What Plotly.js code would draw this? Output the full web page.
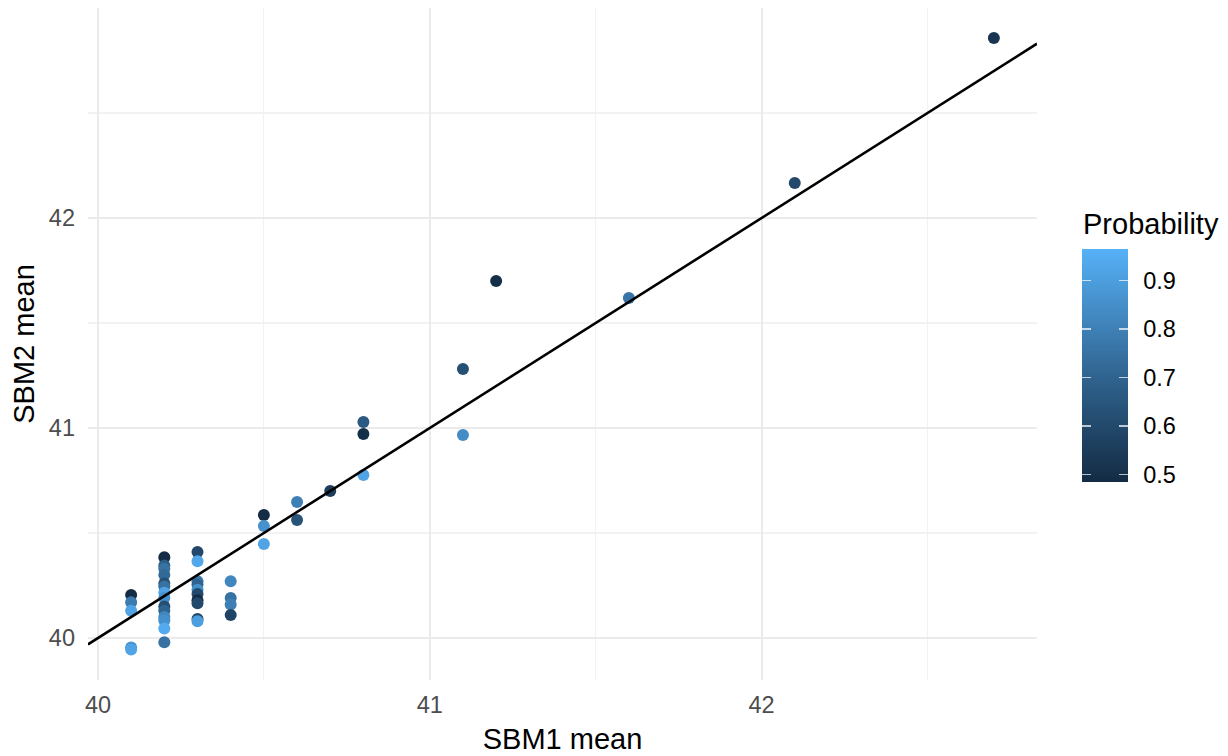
<!DOCTYPE html>
<html>
<head>
<meta charset="utf-8">
<script src="https://cdn.plot.ly/plotly-3.0.1.min.js"></script>
<style>html,body{margin:0;padding:0;background:#fff;}#chart{width:1228px;height:756px;}</style>
</head>
<body>
<div id="chart"></div>
<script>
// SBM1 mean (x), SBM2 mean (y), Probability (colour)
const sbm1 = [
  40.1, 40.1, 40.1, 40.1, 40.1,
  40.2, 40.2, 40.2, 40.2, 40.2, 40.2, 40.2, 40.2, 40.2, 40.2, 40.2, 40.2, 40.2, 40.2,
  40.3, 40.3, 40.3, 40.3, 40.3, 40.3, 40.3, 40.3, 40.3, 40.3,
  40.4, 40.4, 40.4, 40.4,
  40.5, 40.5, 40.5,
  40.6, 40.6,
  40.7,
  40.8, 40.8, 40.8,
  41.1, 41.1,
  41.2,
  41.6,
  42.1,
  42.7
];
const sbm2 = [
  40.205, 40.17, 40.13, 39.955, 39.945,
  40.385, 40.345, 40.33, 40.30, 40.26, 40.245, 40.215, 40.19, 40.15, 40.13, 40.10, 40.085, 40.045, 39.98,
  40.41, 40.365, 40.27, 40.255, 40.23, 40.21, 40.18, 40.165, 40.09, 40.08,
  40.27, 40.19, 40.16, 40.11,
  40.586, 40.533, 40.448,
  40.648, 40.562,
  40.70,
  41.029, 40.971, 40.776,
  41.281, 40.967,
  41.70,
  41.619,
  42.167,
  42.857
];
const probability = [
  0.49, 0.78, 0.92, 0.86, 0.92,
  0.49, 0.68, 0.75, 0.72, 0.62, 0.75, 0.92, 0.85, 0.62, 0.70, 0.82, 0.85, 0.94, 0.75,
  0.60, 0.93, 0.78, 0.70, 0.85, 0.60, 0.49, 0.60, 0.60, 0.90,
  0.82, 0.75, 0.80, 0.58,
  0.49, 0.86, 0.92,
  0.80, 0.64,
  0.55,
  0.66, 0.50, 0.92,
  0.62, 0.84,
  0.50,
  0.76,
  0.60,
  0.52
];
const xRange = [39.97, 42.83];
const yRange = [39.8, 43.0];
const probRange = [0.484, 0.964];
const colorTicks = [0.5, 0.6, 0.7, 0.8, 0.9];

const font = 'Liberation Sans, Arial, sans-serif';
const cscale = [[0, '#132B43'], [0.5, '#336A98'], [1, '#56B1F7']];
const tickWhite = 'rgba(255,255,255,0.7)';
const cbBase = {
  thickness: 46, thicknessmode: 'pixels',
  len: 233, lenmode: 'pixels',
  xref: 'container', yref: 'container',
  x: 1082 / 1228, xanchor: 'left',
  y: 344.5 / 756, yanchor: 'middle',
  xpad: 0, ypad: 0, outlinewidth: 0,
  tickvals: colorTicks, ticktext: colorTicks.map(v => v.toFixed(1)),
  tickfont: {family: font, size: 23.5, color: '#000'}
};
// colour bar carrying the labels (drawn first, underneath)
const labelBar = {
  type: 'scatter', mode: 'markers', x: [null], y: [null], hoverinfo: 'skip', showlegend: false,
  marker: {
    color: probRange, cmin: probRange[0], cmax: probRange[1], colorscale: cscale, showscale: true,
    colorbar: Object.assign({}, cbBase, {ticks: 'outside', ticklen: 11, tickcolor: 'rgba(0,0,0,0)'})
  }
};
const pts = {
  type: 'scatter', mode: 'markers', x: sbm1, y: sbm2,
  hoverinfo: 'x+y',
  marker: {
    size: 12, color: probability, cmin: probRange[0], cmax: probRange[1],
    colorscale: cscale, line: {width: 0},
    colorbar: Object.assign({}, cbBase, {ticks: 'inside', ticklen: 9, tickcolor: tickWhite, tickwidth: 1.6, showticklabels: false})
  },
  showlegend: false
};
// narrow strip on the left edge of the bar giving the left-hand tick marks
const leftTicks = {
  type: 'scatter', mode: 'markers', x: [null], y: [null], hoverinfo: 'skip', showlegend: false,
  marker: {
    color: probRange, cmin: probRange[0], cmax: probRange[1], colorscale: cscale, showscale: true,
    colorbar: Object.assign({}, cbBase, {thickness: 9, ticks: 'inside', ticklen: 9, tickcolor: tickWhite, tickwidth: 1.6, showticklabels: false})
  }
};
const refLine = {
  type: 'scatter', mode: 'lines', x: xRange, y: xRange,
  line: {color: '#000', width: 2.6}, hoverinfo: 'skip', showlegend: false
};

const layout = {
  width: 1228, height: 756,
  margin: {l: 88, r: 191, t: 8, b: 76},
  paper_bgcolor: '#fff', plot_bgcolor: '#fff',
  font: {family: font},
  xaxis: {
    range: xRange, tickvals: [40, 41, 42], ticktext: ['40', '41', '42'],
    showgrid: true, gridcolor: '#EBEBEB', gridwidth: 2,
    minor: {tickvals: [40.5, 41.5, 42.5], showgrid: true, gridcolor: '#F2F2F2', gridwidth: 1.2},
    zeroline: false, showline: false, ticks: '', ticklabelstandoff: 8,
    tickfont: {family: font, size: 23.5, color: '#4D4D4D'},
    title: {text: 'SBM1 mean', font: {family: font, size: 29, color: '#000'}, standoff: 12}
  },
  yaxis: {
    range: yRange, tickvals: [40, 41, 42], ticktext: ['40', '41', '42'],
    showgrid: true, gridcolor: '#EBEBEB', gridwidth: 2,
    minor: {tickvals: [40.5, 41.5, 42.5], showgrid: true, gridcolor: '#F2F2F2', gridwidth: 1.2},
    zeroline: false, showline: false, ticks: '', ticklabelstandoff: 12,
    tickfont: {family: font, size: 23.5, color: '#4D4D4D'},
    title: {text: 'SBM2 mean', font: {family: font, size: 29, color: '#000'}, standoff: 5}
  },
  annotations: [{
    text: 'Probability', xref: 'paper', yref: 'paper',
    x: (1081 - 88) / 949, xanchor: 'left',
    y: (680 - 224) / 672, yanchor: 'middle',
    showarrow: false, font: {family: font, size: 29, color: '#000'}
  }]
};
Plotly.newPlot('chart', [labelBar, pts, leftTicks, refLine], layout, {displayModeBar: false, staticPlot: true});
</script>
</body>
</html>
